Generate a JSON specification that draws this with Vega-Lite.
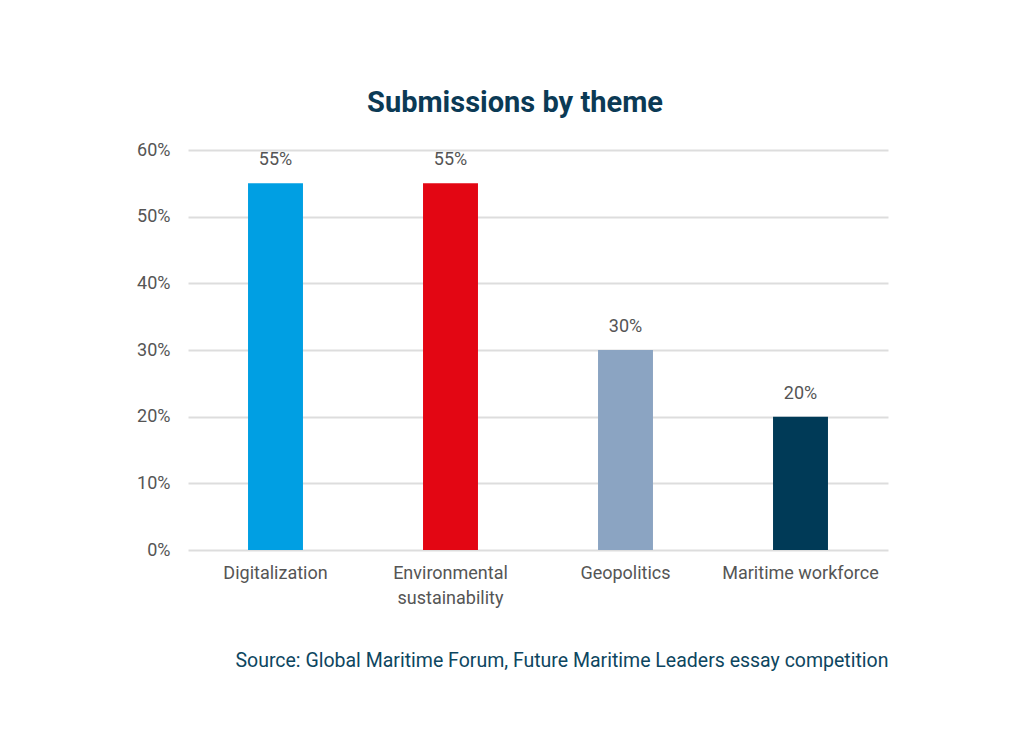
{
  "$schema": "https://vega.github.io/schema/vega-lite/v6.json",
  "width": 700,
  "height": 400,
  "autosize": {"type": "none"},
  "padding": {"left": 188, "top": 150, "right": 136, "bottom": 181},
  "background": "white",
  "title": {
    "text": "Submissions by theme",
    "font": "Roboto",
    "fontSize": 29,
    "fontWeight": "bold",
    "color": "#0B3A55",
    "anchor": "middle",
    "dx": -23,
    "offset": 23
  },
  "data": {
    "values": [
      {"theme": "Digitalization", "share": 0.55},
      {"theme": "Environmental sustainability", "share": 0.55},
      {"theme": "Geopolitics", "share": 0.30},
      {"theme": "Maritime workforce", "share": 0.20}
    ]
  },
  "config": {
    "view": {"stroke": null},
    "font": "Roboto"
  },
  "encoding": {
    "x": {
      "field": "theme",
      "type": "nominal",
      "sort": null,
      "scale": {"paddingInner": 0.686, "paddingOuter": 0.343},
      "axis": {
        "title": "Source: Global Maritime Forum, Future Maritime Leaders essay competition",
        "titleAnchor": "end",
        "titleAlign": "right",
        "titleFont": "Roboto",
        "titleFontSize": 19.5,
        "titleFontWeight": "normal",
        "titleColor": "#0D4660",
        "titlePadding": 44,
        "labelAngle": 0,
        "labelFont": "Roboto",
        "labelFontSize": 18,
        "labelColor": "#555555",
        "labelPadding": 14,
        "labelLineHeight": 25,
        "labelOverlap": false,
        "labelExpr": "datum.value == 'Environmental sustainability' ? ['Environmental', 'sustainability'] : datum.value",
        "domain": false,
        "ticks": false
      }
    },
    "y": {
      "field": "share",
      "type": "quantitative",
      "scale": {"domain": [0, 0.6]},
      "axis": {
        "title": null,
        "format": ".0%",
        "values": [0, 0.1, 0.2, 0.3, 0.4, 0.5, 0.6],
        "labelOverlap": false,
        "labelFont": "Roboto",
        "labelFontSize": 18,
        "labelColor": "#555555",
        "labelPadding": 18,
        "domain": false,
        "ticks": false,
        "gridColor": "#DDDDDD",
        "gridWidth": 2
      }
    }
  },
  "layer": [
    {
      "mark": {"type": "bar"},
      "encoding": {
        "color": {
          "field": "theme",
          "type": "nominal",
          "legend": null,
          "scale": {
            "domain": ["Digitalization", "Environmental sustainability", "Geopolitics", "Maritime workforce"],
            "range": ["#009FE3", "#E30613", "#8BA4C2", "#003A57"]
          }
        }
      }
    },
    {
      "mark": {"type": "text", "baseline": "bottom", "dy": -14, "font": "Roboto", "fontSize": 18, "color": "#555555"},
      "encoding": {
        "text": {"field": "share", "type": "quantitative", "format": ".0%"}
      }
    }
  ]
}
